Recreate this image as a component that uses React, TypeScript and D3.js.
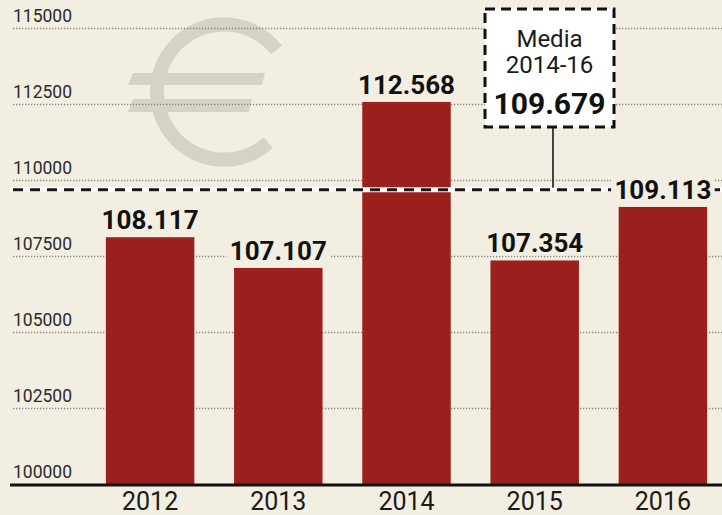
import React from "react";
import * as d3 from "d3";

const years = ["2012", "2013", "2014", "2015", "2016"];
const values = [108117, 107107, 112568, 107354, 109113];
const valueLabels = ["108.117", "107.107", "112.568", "107.354", "109.113"];
const yTicks = [100000, 102500, 105000, 107500, 110000, 112500, 115000];
const meanValue = 109679;
const meanLabel = ["Media", "2014-16", "109.679"];

const W = 722;
const H = 515;
const BG = "#f2eee1";
const BAR = "#9a1f1d";
const FONT = "Roboto, 'Liberation Sans', sans-serif";

export default function App() {
  const x = d3.scaleBand<string>().domain(years).range([86, 727]).paddingInner(0.31).paddingOuter(0.155);
  const y = d3.scaleLinear().domain([100000, 115000]).range([484, 28]);
  const yMean = y(meanValue);

  const euroArc = d3.arc()({
    innerRadius: 60,
    outerRadius: 74,
    startAngle: 2.42,
    endAngle: 2 * Math.PI + 0.9,
  } as any) as string;

  const boxX = 485, boxY = 9, boxW = 129, boxH = 118;
  const cx = boxX + boxW / 2;

  return (
    <svg width={W} height={H} style={{ position: "absolute", left: 0, top: 0, background: BG }}>
      <rect x={0} y={0} width={W} height={H} fill={BG} />
      {/* euro symbol */}
      <g fill="#d7d3c4">
        <path d={euroArc} transform="translate(224,92) scale(1,1.01)" />
        <polygon points="133,73 265,73 262,85 128,85" />
        <polygon points="133,99 252,99 249,112 128,112" />
      </g>
      {/* gridlines */}
      {yTicks.slice(1).map((t) => (
        <line key={t} x1={13} x2={W} y1={y(t) + 0.5} y2={y(t) + 0.5} stroke="#8a877e" strokeWidth={1.3} strokeDasharray="1.3 1.7" />
      ))}
      {yTicks.map((t) => (
        <text key={"l" + t} x={13} y={y(t) - 6} fontFamily={FONT} fontSize={17.5} fill="#2a2a2a">
          {t}
        </text>
      ))}
      {/* bars */}
      {values.map((v, i) => (
        <rect key={years[i]} x={x(years[i])} y={y(v)} width={x.bandwidth()} height={y(100000) - y(v)} fill={BAR} />
      ))}
      {/* mean line */}
      <line x1={10} x2={W} y1={yMean} y2={yMean} stroke="#ffffff" strokeWidth={5} />
      <line x1={13} x2={W} y1={yMean} y2={yMean} stroke="#151515" strokeWidth={3.2} strokeDasharray="10 7" />
      {/* value labels */}
      {values.map((v, i) => {
        const lx = (x(years[i]) as number) + x.bandwidth() / 2;
        const ly = y(v) - 8;
        const lw = valueLabels[i].length * 14.8;
        return (
          <g key={"v" + i}>
            <rect x={lx - lw / 2} y={ly - 21} width={lw} height={24} fill={BG} />
            <text x={lx} y={ly} textAnchor="middle" fontFamily={FONT} fontWeight={700} fontSize={26} fill="#111">
              {valueLabels[i]}
            </text>
          </g>
        );
      })}
      {/* axis */}
      <line x1={10} x2={W} y1={485} y2={485} stroke="#111" strokeWidth={3} />
      {years.map((yr) => (
        <text key={"x" + yr} x={(x(yr) as number) + x.bandwidth() / 2} y={510} textAnchor="middle" fontFamily={FONT} fontSize={25} fill="#1a1a1a">
          {yr}
        </text>
      ))}
      {/* connector */}
      <line x1={553} x2={553} y1={boxY + boxH} y2={yMean - 2} stroke="#444" strokeWidth={2} />
      {/* mean box */}
      <rect x={boxX} y={boxY} width={boxW} height={boxH} fill="#ffffff" stroke="#111" strokeWidth={3} strokeDasharray="10 6" />
      <text x={cx} y={47} textAnchor="middle" fontFamily={FONT} fontSize={24} fill="#1a1a1a">{meanLabel[0]}</text>
      <text x={cx} y={73} textAnchor="middle" fontFamily={FONT} fontSize={24} fill="#1a1a1a">{meanLabel[1]}</text>
      <text x={cx} y={114} textAnchor="middle" fontFamily={FONT} fontWeight={700} fontSize={30} fill="#111">{meanLabel[2]}</text>
    </svg>
  );
}
